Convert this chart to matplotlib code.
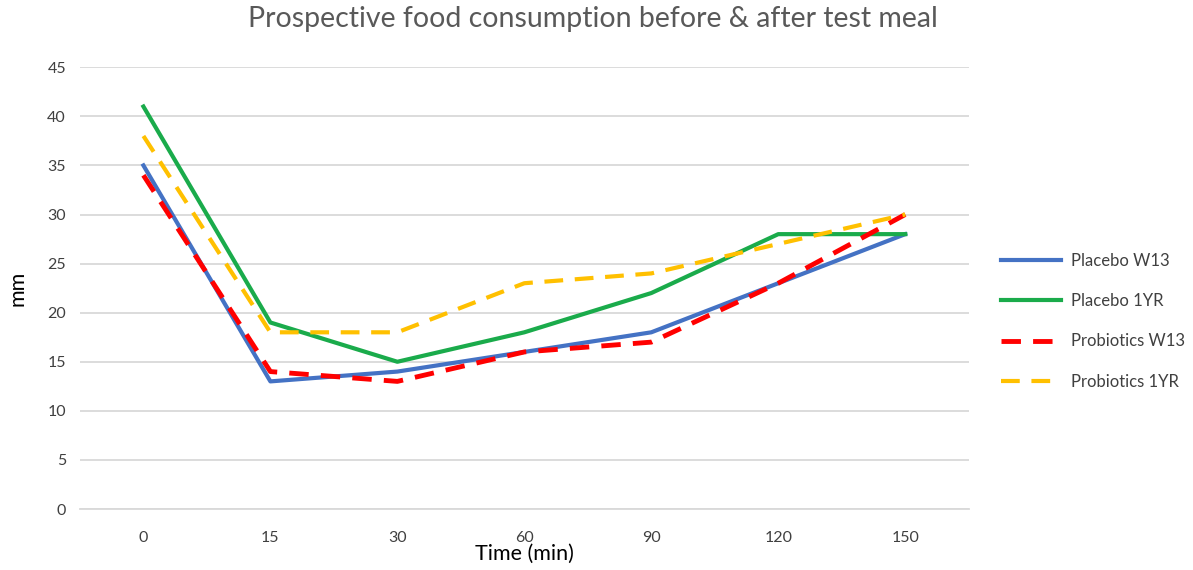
import matplotlib.pyplot as plt

plt.rcParams['font.family'] = ['Lato', 'DejaVu Sans']

time_labels = ['0', '15', '30', '60', '90', '120', '150']
placebo_w13 = [35, 13, 14, 16, 18, 23, 28]
placebo_1yr = [41, 19, 15, 18, 22, 28, 28]
probiotics_w13 = [34, 14, 13, 16, 17, 23, 30]
probiotics_1yr = [38, 18, 18, 23, 24, 27, 30]

fig = plt.figure(figsize=(11.93, 5.7), dpi=100)
ax = fig.add_axes([0.067, 0.107, 0.745, 0.775])

x = range(len(time_labels))
ax.plot(x, placebo_w13, color='#4472C4', lw=3, label='Placebo W13')
ax.plot(x, placebo_1yr, color='#1AAB4B', lw=3, label='Placebo 1YR')
ax.plot(x, probiotics_w13, color='#FF0000', lw=3.5, ls=(0, (4, 2.5)), label='Probiotics W13')
ax.plot(x, probiotics_1yr, color='#FFC000', lw=3, ls=(0, (4.5, 2.8)), label='Probiotics 1YR')

ax.set_xlim(-0.5, len(time_labels) - 0.5)
ax.set_ylim(0, 45)
ax.set_yticks(range(0, 46, 5))
ax.set_xticks(list(x))
ax.set_xticklabels(time_labels)
ax.tick_params(axis='y', length=0, labelsize=11.5, colors='#404040', pad=10)
ax.tick_params(axis='x', length=0, labelsize=11.5, colors='#404040', pad=16)
ax.grid(axis='y', color='#D9D9D9', lw=1.3)
ax.set_axisbelow(True)
for s in ax.spines.values():
    s.set_visible(False)
ax.spines['bottom'].set_visible(True)
ax.spines['bottom'].set_color('#D9D9D9')
ax.spines['bottom'].set_linewidth(1.3)

ax.set_xlabel('Time (min)', fontsize=15.5, labelpad=-1)
ax.set_ylabel('mm', fontsize=15.5, labelpad=14)
fig.suptitle('Prospective food consumption before & after test meal', fontsize=20.5,
             color='#595959', x=0.497, y=0.99)

ax.legend(loc='center left', bbox_to_anchor=(1.02, 0.425), frameon=False,
          fontsize=12, labelspacing=1.45, handlelength=3.6, handletextpad=0.6,
          labelcolor='#404040')

fig.savefig('out.png', dpi=100)
